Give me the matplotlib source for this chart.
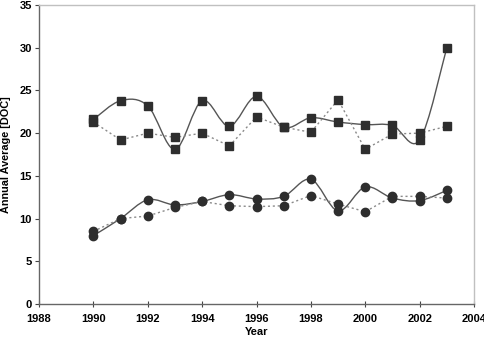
import numpy as np
import matplotlib
matplotlib.use("Agg")
import matplotlib.pyplot as plt
from matplotlib.path import Path
from matplotlib.patches import PathPatch

plt.rcParams['font.family'] = ['Liberation Sans', 'DejaVu Sans']
plt.rcParams['font.weight'] = 'bold'

years = [1990, 1991, 1992, 1993, 1994, 1995, 1996, 1997, 1998, 1999, 2000, 2001, 2002, 2003]
sq_solid = [21.6, 23.8, 23.2, 18.1, 23.8, 20.8, 24.3, 20.7, 21.8, 21.3, 21.0, 20.9, 19.2, 30.0]
sq_dotted = [21.3, 19.2, 20.0, 19.5, 20.0, 18.5, 21.9, 20.7, 20.1, 23.9, 18.1, 19.9, 20.0, 20.8]
ci_solid = [8.0, 10.0, 12.2, 11.6, 12.0, 12.8, 12.3, 12.6, 14.6, 10.9, 13.7, 12.4, 12.1, 13.3]
ci_dotted = [8.5, 10.0, 10.3, 11.3, 12.0, 11.5, 11.4, 11.5, 12.7, 11.7, 10.8, 12.6, 12.6, 12.4]


def smooth_path(x, y):
    # Excel-style smoothed line: cubic Bezier through points (Catmull-Rom, tension 1/6)
    p = np.column_stack([x, y]).astype(float)
    n = len(p)
    verts = [p[0]]
    codes = [Path.MOVETO]
    for i in range(n - 1):
        p0 = p[i - 1] if i > 0 else p[i]
        p3 = p[i + 2] if i + 2 < n else p[i + 1]
        c1 = p[i] + (p[i + 1] - p0) / 6
        c2 = p[i + 1] - (p3 - p[i]) / 6
        verts += [c1, c2, p[i + 1]]
        codes += [Path.CURVE4] * 3
    return Path(verts, codes)


fig = plt.figure(figsize=(4.85, 3.43), dpi=100)
ax = fig.add_axes([39 / 485, 1 - 304 / 343, 435 / 485, 299 / 343])

solid_col = '#555555'
dot_col = '#8a8a8a'
mk_col = '#2e2e2e'

for ys in (sq_solid, ci_solid):
    ax.add_patch(PathPatch(smooth_path(years, ys), fill=False, edgecolor=solid_col, lw=1.0))
for ys in (sq_dotted, ci_dotted):
    ax.plot(years, ys, color=dot_col, lw=1.0, ls=(0, (1.5, 2)))

ax.plot(years, sq_solid, ls='none', marker='s', ms=5.5, color=mk_col)
ax.plot(years, sq_dotted, ls='none', marker='s', ms=5.5, color=mk_col)
ax.plot(years, ci_solid, ls='none', marker='o', ms=6, color=mk_col)
ax.plot(years, ci_dotted, ls='none', marker='o', ms=6, color=mk_col)

ax.set_xlim(1988, 2004)
ax.set_ylim(0, 35)
ax.set_xticks(range(1988, 2005, 2))
ax.set_yticks(range(0, 36, 5))
ax.tick_params(axis='both', labelsize=8, colors='#444444', labelcolor='black', length=3, width=0.8)
ax.tick_params(axis='x', direction='inout', length=5, pad=5)
ax.tick_params(axis='y', direction='out', pad=2)

for s in ('left', 'bottom'):
    ax.spines[s].set_color('#666666')
    ax.spines[s].set_linewidth(1.0)
for s in ('top', 'right'):
    ax.spines[s].set_color('#c0c0c0')
    ax.spines[s].set_linewidth(1.0)

ax.set_xlabel('Year', fontsize=8, fontweight='bold', labelpad=2)
ax.set_ylabel('Annual Average [DOC]', fontsize=7.8, fontweight='bold')
ax.yaxis.set_label_coords(-28 / 435, 0.5)

fig.savefig('out.png', dpi=100)
